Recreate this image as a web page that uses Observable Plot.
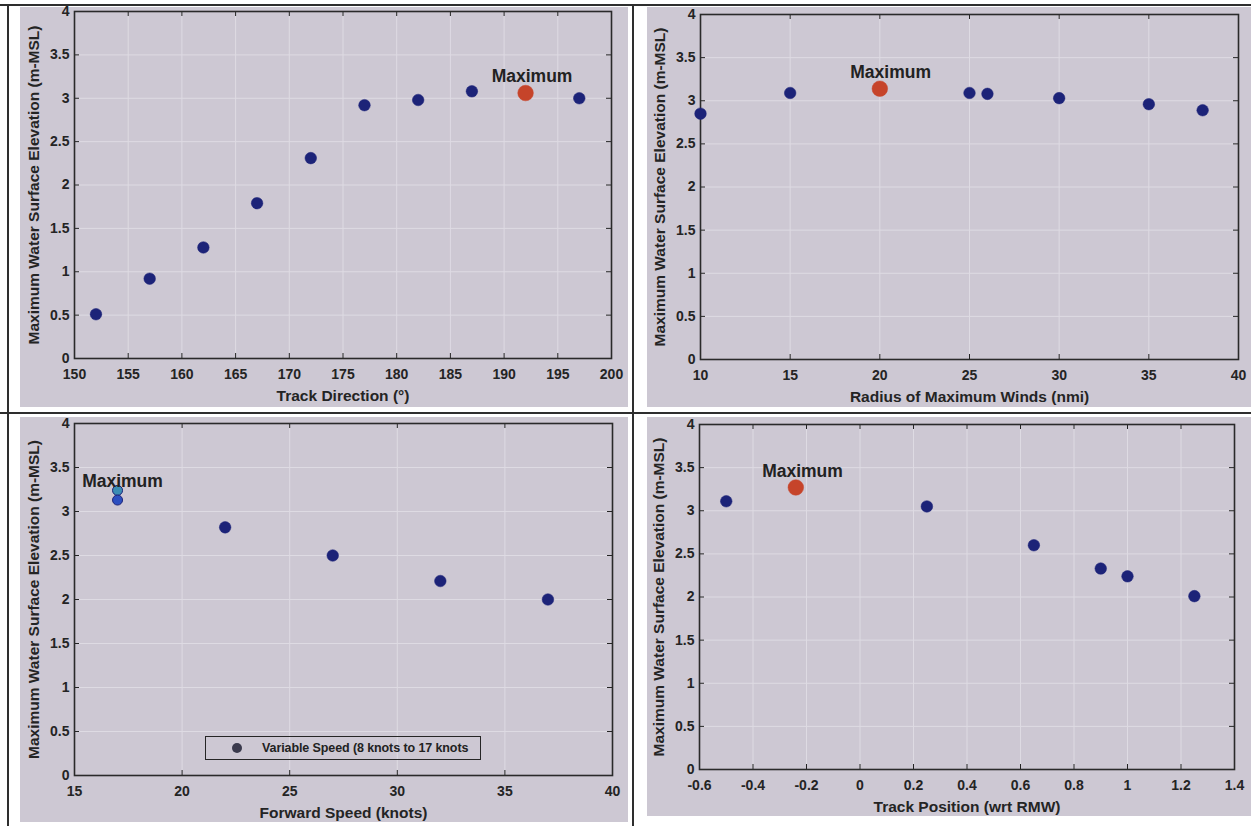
<!DOCTYPE html>
<html>
<head>
<meta charset="utf-8">
<script src="https://cdn.jsdelivr.net/npm/d3@7"></script>
<script src="https://cdn.jsdelivr.net/npm/@observablehq/plot@0.6"></script>
<style>
  body { margin: 0; background: #ffffff; }
  #page { position: relative; width: 1251px; height: 826px; overflow: hidden; font-family: "Liberation Sans", Arial, sans-serif; background: #fff; }
  .panel { position: absolute; background: #cdc8d3; }
  .line { position: absolute; background: #2e2e2e; }
  .chart { position: absolute; }
  .chart svg { overflow: visible; }
  .legend { position: absolute; box-sizing: border-box; border: 1.5px solid #252525; display: flex; align-items: center; }
  .legend .dot { width: 10px; height: 10px; border-radius: 50%; background: #3a3a4c; margin-left: 26px; }
  .legend .lbl { margin-left: 20px; font-size: 12.5px; font-weight: bold; color: #222; white-space: nowrap; letter-spacing: -0.1px; }
</style>
</head>
<body>
<div id="page">
  <div class="panel" style="left:20px;top:7px;width:608px;height:400px"></div>
  <div class="panel" style="left:647px;top:7px;width:604px;height:400px"></div>
  <div class="panel" style="left:20px;top:417px;width:608px;height:405px"></div>
  <div class="panel" style="left:647px;top:417px;width:604px;height:399px"></div>
  <div class="line" style="left:0;top:4px;width:1251px;height:1.5px"></div>
  <div class="line" style="left:7px;top:4px;width:1.5px;height:822px"></div>
  <div class="line" style="left:632px;top:4px;width:1.5px;height:822px"></div>
  <div class="line" style="left:0;top:412px;width:1251px;height:1.5px"></div>
  <div class="chart" id="c1" style="left:20px;top:7px"></div>
  <div class="chart" id="c2" style="left:647px;top:7px"></div>
  <div class="chart" id="c3" style="left:20px;top:416px"></div>
  <div class="chart" id="c4" style="left:647px;top:416px"></div>
  <div class="legend" style="left:205px;top:736px;width:276px;height:24px">
    <div class="dot"></div><div class="lbl" id="legendText"></div>
  </div>
</div>
<script>
// ---------- shared ----------
const yLabel = "Maximum Water Surface Elevation (m-MSL)";
const yTicks = [0, 0.5, 1, 1.5, 2, 2.5, 3, 3.5, 4];
const yTickLabels = ["0", "0.5", "1", "1.5", "2", "2.5", "3", "3.5", "4"];
const maxLabel = "Maximum";

// ---------- panel 1: track direction ----------
const directionLabel = "Track Direction (°)";
const directionTicks = [150, 155, 160, 165, 170, 175, 180, 185, 190, 195, 200];
const direction = [152, 157, 162, 167, 172, 177, 182, 187, 197];
const directionElev = [0.51, 0.92, 1.28, 1.79, 2.31, 2.92, 2.98, 3.08, 3.00];
const directionMax = [192];
const directionMaxElev = [3.06];
const directionMaxLabelPos = [192.6, 3.25];

// ---------- panel 2: radius of maximum winds ----------
const rmwLabel = "Radius of Maximum Winds (nmi)";
const rmwTicks = [10, 15, 20, 25, 30, 35, 40];
const rmw = [10, 15, 25, 26, 30, 35, 38];
const rmwElev = [2.85, 3.09, 3.09, 3.08, 3.03, 2.96, 2.89];
const rmwMax = [20];
const rmwMaxElev = [3.14];
const rmwMaxLabelPos = [20.6, 3.33];

// ---------- panel 3: forward speed ----------
const speedLabel = "Forward Speed (knots)";
const speedTicks = [15, 20, 25, 30, 35, 40];
const speed = [22, 27, 32, 37];
const speedElev = [2.82, 2.50, 2.21, 2.00];
const speedMax = [17, 17];
const speedMaxElev = [3.24, 3.13];
const speedMaxColors = ["#3a8db4", "#2c4fc0"];
const speedMaxLabelPos = [17.23, 3.34];
const legendLabel = "Variable Speed (8 knots to 17 knots";

// ---------- panel 4: track position ----------
const positionLabel = "Track Position (wrt RMW)";
const positionTicks = [-0.6, -0.4, -0.2, 0, 0.2, 0.4, 0.6, 0.8, 1, 1.2, 1.4];
const positionTickLabels = ["-0.6", "-0.4", "-0.2", "0", "0.2", "0.4", "0.6", "0.8", "1", "1.2", "1.4"];
const position = [-0.5, 0.25, 0.65, 0.9, 1.0, 1.25];
const positionElev = [3.11, 3.05, 2.60, 2.33, 2.24, 2.01];
const positionMax = [-0.24];
const positionMaxElev = [3.27];
const positionMaxLabelPos = [-0.215, 3.46];

const BLUE = "#1c2378";
const RED = "#c6442a";
const INK = "#242424";
const GRID = "#dedbe3";
const FONT = "Liberation Sans, Arial, sans-serif";

function zip(xs, ys) { return xs.map((x, i) => ({x, y: ys[i], i})); }

function panel(cfg) {
  const {width, height, ml, mr, mt, mb, xDomain, xTicks, xTickFormat, xLabel, pts, maxPts, maxLabelPos, maxColors, maxR} = cfg;
  const yDomain = [0, 4];
  const fw = width - ml - mr, fh = height - mt - mb;
  const tx = 5 * (xDomain[1] - xDomain[0]) / fw;
  const ty = 5 * (yDomain[1] - yDomain[0]) / fh;
  const marks = [
    Plot.gridX(xTicks, {stroke: GRID, strokeOpacity: 1, strokeWidth: 1}),
    Plot.gridY(yTicks, {stroke: GRID, strokeOpacity: 1, strokeWidth: 1}),
    Plot.ruleX(xTicks, {y1: yDomain[0], y2: yDomain[0] + ty, stroke: INK, strokeWidth: 1}),
    Plot.ruleX(xTicks, {y1: yDomain[1] - ty, y2: yDomain[1], stroke: INK, strokeWidth: 1}),
    Plot.ruleY(yTicks, {x1: xDomain[0], x2: xDomain[0] + tx, stroke: INK, strokeWidth: 1}),
    Plot.ruleY(yTicks, {x1: xDomain[1] - tx, x2: xDomain[1], stroke: INK, strokeWidth: 1}),
    Plot.frame({stroke: "#2a2a2a", strokeWidth: 1.6}),
    Plot.axisX(xTicks, {tickSize: 0, tickPadding: 11, tickFormat: xTickFormat, fontSize: 14, fontWeight: "bold", fill: INK, label: null, fontFamily: FONT}),
    Plot.axisY(yTicks, {tickSize: 0, tickPadding: 5, tickFormat: (d, i) => yTickLabels[i], fontSize: 14, fontWeight: "bold", fill: INK, label: null, fontFamily: FONT}),
    Plot.text([xLabel], {text: d => d, frameAnchor: "bottom", dy: 38, lineAnchor: "middle", textAnchor: "middle", fontSize: 15.5, fontWeight: "bold", fill: INK, fontFamily: FONT}),
    Plot.text([yLabel], {text: d => d, frameAnchor: "left", dx: -40, rotate: -90, lineAnchor: "middle", textAnchor: "middle", fontSize: 15.5, fontWeight: "bold", fill: INK, fontFamily: FONT}),
    Plot.dot(pts, {x: "x", y: "y", r: 5.8, fill: BLUE, stroke: BLUE, strokeWidth: 0.5}),
    Plot.dot(maxPts, {x: "x", y: "y", r: maxR || 7.8, fill: maxColors ? (d => maxColors[d.i]) : RED, stroke: maxColors ? BLUE : RED, strokeWidth: maxColors ? 1 : 0.5}),
    Plot.text([maxLabelPos], {x: d => d[0], y: d => d[1], text: () => maxLabel, fontSize: 17.5, fontWeight: "bold", fill: "#222", fontFamily: FONT, lineAnchor: "middle"})
  ];
  return Plot.plot({
    width, height,
    marginLeft: ml, marginRight: mr, marginTop: mt, marginBottom: mb,
    style: {background: "transparent", overflow: "visible", fontFamily: FONT},
    x: {domain: xDomain},
    y: {domain: yDomain},
    marks
  });
}

document.getElementById("c1").append(panel({
  width: 608, height: 400, ml: 54, mr: 17, mt: 4, mb: 49,
  xDomain: [150, 200], xTicks: directionTicks, xTickFormat: d => String(d),
  xLabel: directionLabel,
  pts: zip(direction, directionElev), maxPts: zip(directionMax, directionMaxElev),
  maxLabelPos: directionMaxLabelPos
}));

document.getElementById("c2").append(panel({
  width: 604, height: 400, ml: 53, mr: 13, mt: 7, mb: 48,
  xDomain: [10, 40], xTicks: rmwTicks, xTickFormat: d => String(d),
  xLabel: rmwLabel,
  pts: zip(rmw, rmwElev), maxPts: zip(rmwMax, rmwMaxElev),
  maxLabelPos: rmwMaxLabelPos
}));

document.getElementById("c3").append(panel({
  width: 608, height: 406, ml: 54, mr: 16, mt: 7, mb: 47,
  xDomain: [15, 40], xTicks: speedTicks, xTickFormat: d => String(d),
  xLabel: speedLabel,
  pts: zip(speed, speedElev), maxPts: zip(speedMax, speedMaxElev),
  maxColors: speedMaxColors, maxR: 5,
  maxLabelPos: speedMaxLabelPos
}));

document.getElementById("c4").append(panel({
  width: 604, height: 400, ml: 52, mr: 17, mt: 8, mb: 47,
  xDomain: [-0.6, 1.4], xTicks: positionTicks, xTickFormat: (d, i) => positionTickLabels[i],
  xLabel: positionLabel,
  pts: zip(position, positionElev), maxPts: zip(positionMax, positionMaxElev),
  maxLabelPos: positionMaxLabelPos
}));

document.getElementById("legendText").textContent = legendLabel;
</script>
</body>
</html>
